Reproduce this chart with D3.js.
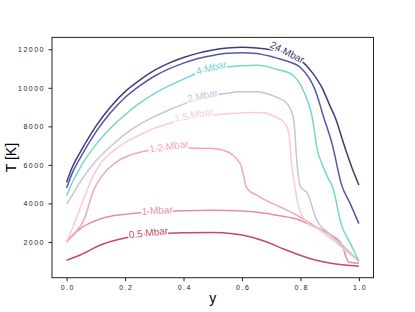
<!DOCTYPE html>
<html>
<head>
<meta charset="utf-8">
<script src="https://cdn.jsdelivr.net/npm/d3@7"></script>
<style>
  body { margin: 0; background: #fff; }
  svg { display: block; }
  .tick text { font-family: "Liberation Sans", Arial, sans-serif; font-size: 7px; letter-spacing: 1.5px; fill: #222; }
</style>
</head>
<body>
<svg id="chart" width="415" height="312"></svg>
<script>
// T(y) profiles at different pressures: [y, T]
var p24 = [[0,5100],[0.02,5900],[0.05,6750],[0.1,8000],[0.15,9000],[0.2,9800],[0.25,10400],[0.3,10900],[0.35,11280],[0.4,11570],[0.45,11800],[0.5,11960],[0.55,12060],[0.6,12100],[0.65,12070],[0.7,11980],[0.75,11820],[0.8,11450],[0.84,10800],[0.875,9970],[0.9,9100],[0.92,8420],[0.95,7000],[0.975,5900],[1.0,4950]];
var p10 = [[0,4800],[0.02,5600],[0.05,6450],[0.1,7700],[0.15,8700],[0.2,9500],[0.25,10100],[0.3,10600],[0.35,10980],[0.4,11280],[0.45,11520],[0.5,11680],[0.55,11790],[0.6,11820],[0.65,11780],[0.7,11620],[0.75,11400],[0.8,11050],[0.83,10500],[0.85,9900],[0.88,8450],[0.91,7000],[0.94,5000],[0.97,4000],[1.0,2950]];
var p4 = [[0,4400],[0.02,5100],[0.05,5950],[0.1,7050],[0.15,7900],[0.2,8600],[0.25,9200],[0.3,9700],[0.35,10100],[0.4,10450],[0.45,10780],[0.5,10950],[0.55,11080],[0.6,11150],[0.65,11170],[0.68,11120],[0.72,10950],[0.77,10700],[0.81,9850],[0.84,8500],[0.858,6770],[0.875,6000],[0.895,5300],[0.91,4850],[0.94,2900],[0.97,1950],[1.0,1000]];
var p2 = [[0,3950],[0.03,4700],[0.05,5200],[0.1,6200],[0.15,6950],[0.2,7600],[0.25,8100],[0.3,8500],[0.35,8850],[0.4,9150],[0.45,9420],[0.5,9600],[0.55,9720],[0.6,9790],[0.65,9790],[0.68,9720],[0.72,9500],[0.75,9250],[0.775,8500],[0.782,7500],[0.786,6500],[0.79,5800],[0.8,4870],[0.825,4500],[0.853,3230],[0.9,2400],[0.95,1750],[1.0,1000]];
var p15 = [[0,2000],[0.03,3100],[0.06,4300],[0.09,5400],[0.12,6150],[0.167,6800],[0.2,7150],[0.25,7550],[0.3,7900],[0.35,8150],[0.4,8350],[0.45,8480],[0.5,8580],[0.55,8650],[0.6,8700],[0.65,8720],[0.68,8690],[0.72,8450],[0.735,8330],[0.756,7900],[0.765,7000],[0.77,6000],[0.78,5000],[0.79,4090],[0.82,3050],[0.87,2600],[0.9,2250],[0.95,1600],[1.0,1000]];
var p12 = [[0,2000],[0.03,2500],[0.059,3140],[0.093,4700],[0.115,5300],[0.138,5730],[0.18,6250],[0.229,6560],[0.3,6800],[0.4,6880],[0.5,6850],[0.54,6740],[0.569,6510],[0.585,6250],[0.598,5910],[0.606,5400],[0.614,4870],[0.63,4600],[0.649,4440],[0.677,4200],[0.74,3750],[0.78,3450],[0.83,3000],[0.9,2250],[1.0,1000]];
var p1 = [[0,2000],[0.02,2350],[0.048,2710],[0.09,3050],[0.138,3300],[0.2,3440],[0.3,3560],[0.4,3620],[0.5,3640],[0.6,3600],[0.677,3490],[0.72,3380],[0.796,3140],[0.836,2880],[0.87,2650],[0.9,2400],[0.94,1900],[0.966,950],[1.0,900]];
var p05 = [[0,1050],[0.05,1350],[0.116,1840],[0.17,2100],[0.229,2300],[0.3,2420],[0.4,2480],[0.5,2490],[0.569,2430],[0.62,2300],[0.683,2010],[0.74,1650],[0.796,1320],[0.85,1060],[0.909,880],[0.95,800],[1.0,740]];

var xTicks = [0, 0.2, 0.4, 0.6, 0.8, 1.0];
var yTicks = [2000, 4000, 6000, 8000, 10000, 12000];

var series = [
  {name: "0.5 Mbar", data: p05, color: "#c84a60", lab: [0.28, 2480, -6]},
  {name: "1 Mbar",   data: p1,  color: "#e68f9c", lab: [0.31, 3640, -4]},
  {name: "1.2 Mbar", data: p12, color: "#f3a7b1", lab: [0.35, 6960, -8]},
  {name: "1.5 Mbar", data: p15, color: "#f7ccd6", lab: [0.435, 8600, -10]},
  {name: "2 Mbar",   data: p2,  color: "#c6c4dd", lab: [0.465, 9600, -12]},
  {name: "4 Mbar",   data: p4,  color: "#74d7ca", lab: [0.495, 11050, -14]},
  {name: "",         data: p10, color: "#5557a6", lab: null},
  {name: "24 Mbar",  data: p24, color: "#3e3d7c", lab: [0.755, 11850, 27]}
];

var svg = d3.select("#chart");
var mLeft = 52, mRight = 373.5, mTop = 37.4, mBottom = 277.7;

var x = d3.scaleLinear().domain([-0.05, 1.05]).range([mLeft, mRight]);
var y = d3.scaleLinear().domain([145, 12615]).range([mBottom, mTop]);

var line = d3.line()
  .x(function (d) { return x(d[0]); })
  .y(function (d) { return y(d[1]); })
  .curve(d3.curveMonotoneX);

var g = svg.append("g");
g.selectAll("path.curve")
  .data(series)
  .enter()
  .append("path")
  .attr("class", "curve")
  .attr("d", function (d) { return line(d.data); })
  .attr("fill", "none")
  .attr("stroke", function (d) { return d.color; })
  .attr("stroke-width", 1.5);

// inline labels, white halo cuts the line like clabel
g.selectAll("text.lab")
  .data(series.filter(function (d) { return d.lab; }))
  .enter()
  .append("text")
  .attr("class", "lab")
  .attr("transform", function (d) {
    return "translate(" + x(d.lab[0]) + "," + y(d.lab[1]) + ") rotate(" + d.lab[2] + ")";
  })
  .attr("text-anchor", "middle")
  .attr("dy", "0.35em")
  .style("font-family", "'Liberation Sans', Arial, sans-serif")
  .style("font-size", "10px")
  .style("fill", function (d) { return d.color; })
  .style("stroke", "#fff")
  .style("stroke-width", 3)
  .style("paint-order", "stroke")
  .text(function (d) { return d.name; });

// frame
svg.append("rect")
  .attr("x", mLeft).attr("y", mTop)
  .attr("width", mRight - mLeft).attr("height", mBottom - mTop)
  .attr("fill", "none").attr("stroke", "#222").attr("stroke-width", 1);

var xAxis = svg.append("g")
  .attr("transform", "translate(0," + mBottom + ")")
  .call(d3.axisBottom(x).tickValues(xTicks).tickFormat(d3.format(".1f")).tickSize(3.5).tickPadding(4));
var yAxis = svg.append("g")
  .attr("transform", "translate(" + mLeft + ",0)")
  .call(d3.axisLeft(y).tickValues(yTicks).tickFormat(d3.format("d")).tickSize(3.5).tickPadding(5));
xAxis.select(".domain").remove();
yAxis.select(".domain").remove();
svg.selectAll(".tick line").attr("stroke", "#222");
svg.selectAll(".tick text").attr("fill", "#222");
yAxis.selectAll(".tick text").attr("dx", "1.5px");
xAxis.selectAll(".tick text").attr("dx", "0.75px");

svg.append("text")
  .attr("x", (mLeft + mRight) / 2).attr("y", 303)
  .attr("text-anchor", "middle")
  .style("font-family", "'Liberation Sans', Arial, sans-serif")
  .style("font-size", "14px")
  .text("y");

svg.append("text")
  .attr("transform", "translate(16," + ((mTop + mBottom) / 2) + ") rotate(-90)")
  .attr("text-anchor", "middle")
  .style("font-family", "'Liberation Sans', Arial, sans-serif")
  .style("font-size", "14px")
  .text("T [K]");
</script>
</body>
</html>
